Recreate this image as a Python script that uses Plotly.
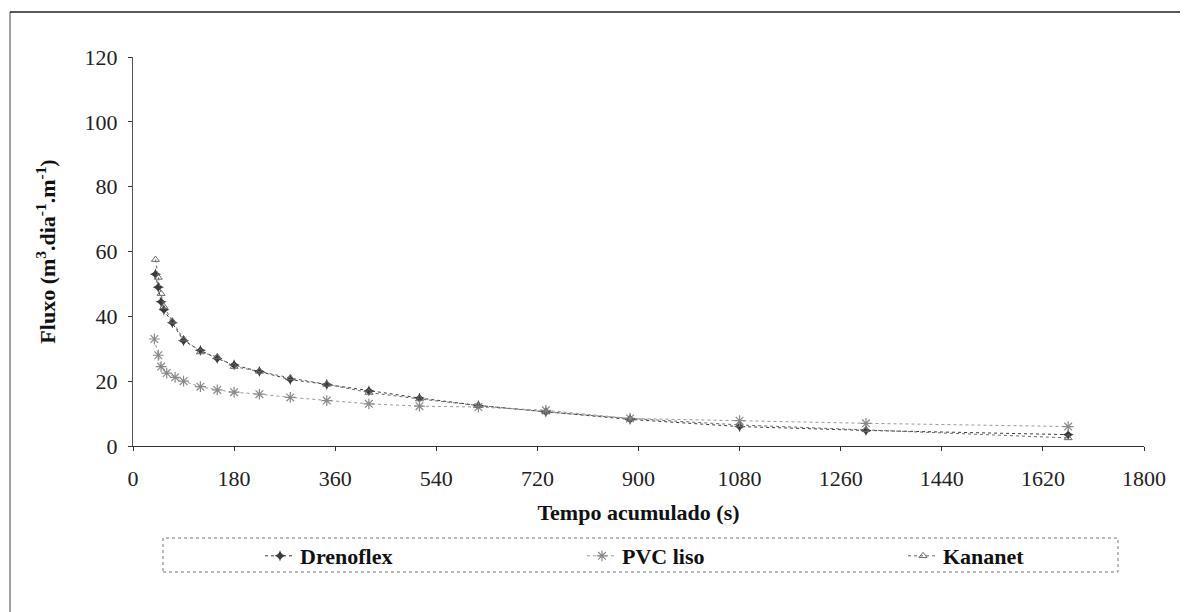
import plotly.graph_objects as go

# ---- data ----
t_dren = [40, 45, 50, 55, 70, 90, 120, 150, 180, 225, 280, 345, 420, 510, 615, 735, 885, 1080, 1305, 1665]
drenoflex = [53, 49, 44.5, 42, 38, 32.5, 29.5, 27, 25, 23, 20.5, 19, 17, 14.8, 12.5, 10.5, 8.2, 6, 4.8, 3.5]

t_pvc = [38, 45, 50, 60, 75, 90, 120, 150, 180, 225, 280, 345, 420, 510, 615, 735, 885, 1080, 1305, 1665]
pvc_liso = [33, 28, 24.5, 22.5, 21.2, 20, 18.3, 17.3, 16.6, 16, 15, 14, 13, 12.3, 12, 11, 8.5, 7.8, 7, 6]

t_kan = [40, 45, 50, 55, 70, 90, 120, 150, 180, 225, 280, 345, 420, 510, 615, 735, 885, 1080, 1305, 1665]
kananet = [57.5, 52, 47, 43, 38.5, 33, 29, 27.5, 24.5, 23, 21, 19, 16.5, 14.5, 12.5, 10.5, 8.5, 6.5, 5, 2.5]

x_ticks = [0, 180, 360, 540, 720, 900, 1080, 1260, 1440, 1620, 1800]
y_ticks = [0, 20, 40, 60, 80, 100, 120]

FONT = "Liberation Serif, Times New Roman, serif"

fig = go.Figure()
fig.add_trace(go.Scatter(x=t_dren, y=drenoflex, name="Drenoflex", mode="lines+markers",
                         line=dict(color="#3a3a3a", width=1, dash="dot"),
                         marker=dict(symbol="star-diamond", size=8, color="#3a3a3a"),
                         legend="legend"))
fig.add_trace(go.Scatter(x=t_pvc, y=pvc_liso, name="PVC liso", mode="lines+markers",
                         line=dict(color="#9a9a9a", width=1, dash="dot"),
                         marker=dict(symbol="asterisk-open", size=9, color="#8a8a8a",
                                     line=dict(color="#8a8a8a", width=1.2)),
                         legend="legend2"))
fig.add_trace(go.Scatter(x=t_kan, y=kananet, name="Kananet", mode="lines+markers",
                         line=dict(color="#6a6a6a", width=1, dash="dot"),
                         marker=dict(symbol="triangle-up-open", size=7, color="#6a6a6a",
                                     line=dict(color="#6a6a6a", width=1)),
                         legend="legend3"))

# page-pixel -> paper helpers (plot area spans x 133..1144, y 57..446 on the page)
def px2paper_x(px):
    return (px - 133) / 1011.0

def px2paper_y(py):
    return (446 - py) / 389.0

legend_common = dict(orientation="h", yanchor="middle", xanchor="left",
                     bgcolor="rgba(0,0,0,0)", borderwidth=0,
                     font=dict(family=FONT, size=22, color="#111", weight="bold"))

fig.update_layout(
    width=1188, height=612,
    showlegend=True,
    paper_bgcolor="white", plot_bgcolor="white",
    margin=dict(l=125, r=52, t=49, b=174),
    font=dict(family=FONT, size=22, color="#222"),
    legend=dict(x=px2paper_x(260), y=px2paper_y(556), **legend_common),
    legend2=dict(x=px2paper_x(582), y=px2paper_y(556), **legend_common),
    legend3=dict(x=px2paper_x(903), y=px2paper_y(556), **legend_common),
    xaxis=dict(range=[0, 1800], tickvals=x_ticks, ticktext=[str(v) for v in x_ticks],
               showgrid=False, zeroline=False, showline=True, linecolor="#333", linewidth=1,
               ticks="outside", ticklen=4, tickcolor="#333", ticklabelstandoff=9,
               tickfont=dict(family=FONT, size=22, color="#222"),
               title=dict(text="<b>Tempo acumulado (s)</b>", standoff=14,
                          font=dict(family=FONT, size=22, color="#111"))),
    yaxis=dict(range=[0, 120], tickvals=y_ticks, ticktext=[str(v) for v in y_ticks],
               showgrid=False, zeroline=False, showline=True, linecolor="#555", linewidth=1,
               ticks="outside", ticklen=4, tickcolor="#333", ticklabelstandoff=6,
               tickfont=dict(family=FONT, size=22, color="#222"),
               title=dict(text="<b>Fluxo (m<sup>3</sup>.dia<sup>-1</sup>.m<sup>-1</sup>)</b>", standoff=22,
                          font=dict(family=FONT, size=22, color="#111"))),
    shapes=[
        # legend box
        dict(type="rect", xref="paper", yref="paper",
             x0=px2paper_x(163), x1=px2paper_x(1118), y0=px2paper_y(572), y1=px2paper_y(538),
             line=dict(color="#777", width=1, dash="dot")),
        # outer frame (top and left)
        dict(type="line", xref="paper", yref="paper",
             x0=px2paper_x(10), x1=px2paper_x(1188), y0=px2paper_y(12), y1=px2paper_y(12),
             line=dict(color="#222", width=1.5)),
        dict(type="line", xref="paper", yref="paper",
             x0=px2paper_x(10), x1=px2paper_x(10), y0=px2paper_y(12), y1=px2paper_y(612),
             line=dict(color="#444", width=1)),
    ],
)

fig.write_html("out.html")
